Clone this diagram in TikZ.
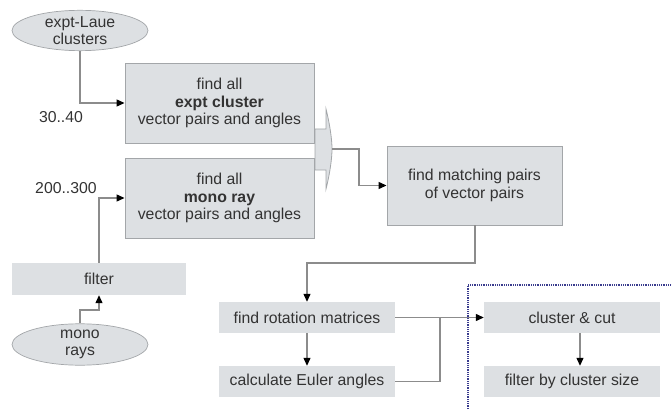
\documentclass[tikz,border=0pt]{standalone}
\usepackage{fontspec}
\setmainfont{Liberation Sans}
\usetikzlibrary{arrows.meta,shapes.geometric}
\definecolor{boxfill}{HTML}{DDE0E3}
\definecolor{boxline}{HTML}{A3A6A9}
\definecolor{conn}{HTML}{8C8C8C}
\definecolor{txt}{HTML}{333333}
\definecolor{navy}{HTML}{3A3C8E}
\begin{document}
\begin{tikzpicture}[x=1pt,y=-1pt,
  every node/.style={font=\fontsize{15.8}{17.5}\selectfont, text=txt, align=center, inner sep=0pt},
  bigbox/.style={draw=boxline, line width=0.9pt, fill=boxfill, minimum width=189pt, minimum height=80pt},
  flatbox/.style={fill=boxfill, minimum width=176pt, minimum height=31pt},
  oval/.style={ellipse, draw=boxline, line width=0.7pt, fill=boxfill, minimum width=136pt, minimum height=36pt},
  conn/.style={draw=conn, line width=1.2pt},
  arr/.style={conn, -{Triangle[black,length=8pt,width=7pt]}}]
\useasboundingbox (0,0) rectangle (672,409);
% nodes
\node[oval] (laue) at (80,30.5) {expt-Laue\\clusters};
\node[bigbox] (b1) at (219.5,103) {find all\\\textbf{expt cluster}\\vector pairs and angles};
\node[bigbox] (b2) at (219.5,198) {find all\\\textbf{mono ray}\\vector pairs and angles};
\node[flatbox, minimum width=174pt, minimum height=32pt] (filt) at (99,279) {filter};
\node[oval] (mono) at (80,344.5) {mono\\rays};
\node[bigbox, minimum width=175pt, minimum height=79pt] (b3) at (474.5,185.5) {find matching pairs\\of vector pairs};
\node[flatbox] (rot) at (307,317.5) {find rotation matrices};
\node[flatbox] (eul) at (307,381.5) {calculate Euler angles};
\node[flatbox] (cc) at (572,317.5) {cluster \& cut};
\node[flatbox] (fs) at (572,381.5) {filter by cluster size};
\node[font=\fontsize{15.8}{17.5}\selectfont] (l1) at (61,117) {30..40};
\node[font=\fontsize{15.8}{17.5}\selectfont] (l2) at (66,188) {200..300};
% merge symbol
\draw[draw=boxline, line width=0.8pt, fill=boxfill]
  (315,129) -- (326,129) -- (326,109) .. controls (330,125) and (332,140) .. (332,149)
  coordinate (tip)
  .. controls (332,158) and (330,173) .. (326,189) -- (326,170) -- (315,170) -- cycle;
% connectors
\draw[arr] (laue.south) |- (b1.west);
\draw[arr] (filt.north) |- (b2.west);
\coordinate (m1) at (80,310);
\draw[arr] (mono.north) -- (m1) -| (filt.south);
\coordinate (t1) at (359,149);
\draw[arr] (tip) -- (t1) |- (b3.west);
\coordinate (d1) at (475,263);
\draw[arr] (b3.south -| d1) -- (d1) -| (rot.north);
\draw[arr] (rot.south) -- (eul.north);
\coordinate (j1) at (440,317.5);
\draw[arr] (rot.east) -- (cc.west);
\draw[conn] (eul.east) -| (j1);
\coordinate (c1) at (580,0);
\draw[arr] (cc.south -| c1) -- (fs.north -| c1);
% dotted frame
\draw[navy, line width=1.8pt, dash pattern=on 0.9pt off 0.9pt] (468,409) -- (468,285) -- (672,285);
\end{tikzpicture}
\end{document}
